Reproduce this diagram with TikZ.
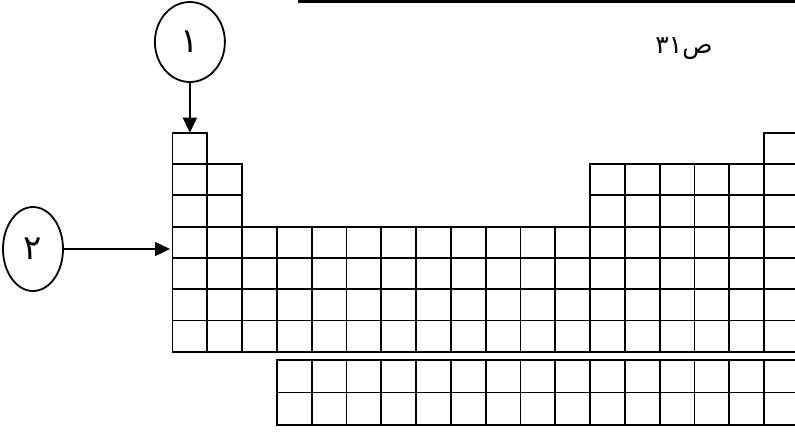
\documentclass[tikz,border=0pt]{standalone}
\usepackage{fontspec}
\newfontfamily\arabicfont[Script=Arabic]{DejaVu Sans}
\TeXXeTstate=1
\usetikzlibrary{arrows.meta,shapes.geometric}
\tikzset{
  cellbox/.style={draw, line width=1.8pt, minimum width=34.8pt, minimum height=31.3pt, inner sep=0pt, outer sep=0pt},
  lanbox/.style={cellbox, minimum height=32.5pt},
  bubble/.style={ellipse, draw, line width=1.8pt, inner sep=0pt, font=\arabicfont\fontsize{34}{34}\selectfont},
  pointer/.style={line width=1.5pt, -{Triangle[length=15pt,width=14pt]}}
}
\begin{document}
\begin{tikzpicture}[x=1pt,y=-1pt]
\clip (0,0) rectangle (795,432);
\fill[white] (0,0) rectangle (795,432);
% top rule
\coordinate (ra) at (298,0.5);
\coordinate (rb) at (800,0.5);
\draw[line width=4pt] (ra) -- (rb);
% main table
\foreach \r/\c in {1/1,1/18,2/1,2/2,3/1,3/2}
  \node[cellbox] (m-\r-\c) at ({172.5+34.8*(\c-0.5)},{132.7+31.3*(\r-0.5)}) {};
\foreach \r in {2,3}
  \foreach \c in {13,...,18}
    \node[cellbox] (m-\r-\c) at ({172.5+34.8*(\c-0.5)},{132.7+31.3*(\r-0.5)}) {};
\foreach \r in {4,...,7}
  \foreach \c in {1,...,18}
    \node[cellbox] (m-\r-\c) at ({172.5+34.8*(\c-0.5)},{132.7+31.3*(\r-0.5)}) {};
% f-block
\foreach \r in {1,2}
  \foreach \c in {4,...,18}
    \node[lanbox] (f-\r-\c) at ({172.5+34.8*(\c-0.5)},{360+32.5*(\r-0.5)}) {};
% bubbles
\node[bubble, minimum width=70pt, minimum height=80pt] (c1) at (189.9,42) {\beginR ١\endR};
\node[bubble, minimum width=60pt, minimum height=84pt] (c2) at (33,249) {\beginR ٢\endR};
\coordinate (t2) at (170,249);
\draw[pointer] (c1) -- (m-1-1.north);
\draw[pointer] (c2) -- (t2);
% page label
\node[font=\arabicfont\fontsize{25}{25}\selectfont, inner sep=0pt] (pg) at (684,49) {\beginR ص\beginL ٣١\endL\endR};
\end{tikzpicture}
\end{document}
